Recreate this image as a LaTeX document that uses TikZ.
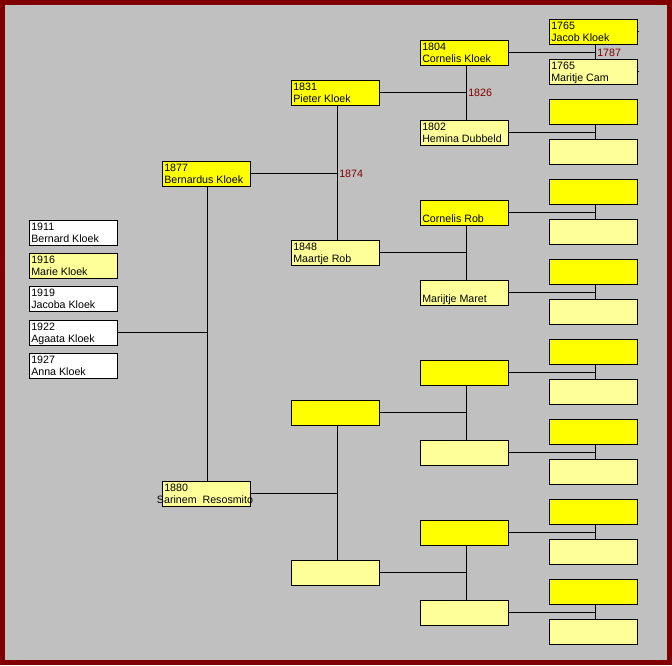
\documentclass[tikz,border=0pt]{standalone}
\usepackage{fontspec}
\setmainfont{Liberation Sans}
\definecolor{bordred}{HTML}{800000}
\definecolor{bggray}{HTML}{C0C0C0}
\definecolor{yel}{HTML}{FFFF00}
\definecolor{lyel}{HTML}{FFFF99}
\definecolor{lbl}{HTML}{800000}
\tikzset{
  box/.style={draw=black, line width=0.75pt, minimum width=66pt, minimum height=18.75pt,
    inner sep=0pt, outer sep=0pt, anchor=north west},
  txt/.style={font=\fontsize{8pt}{9pt}\selectfont, inner sep=0pt, anchor=base west, text=black},
  conn/.style={draw=black, line width=0.75pt},
  yr/.style={font=\fontsize{8pt}{9pt}\selectfont, text=lbl, inner sep=0pt, anchor=west},
}
\begin{document}
\begin{tikzpicture}[x=0.75pt,y=-0.75pt]
\useasboundingbox (0,0) rectangle (672,665);
\fill[bordred] (0,0) rectangle (672,665);
\fill[bggray] (5,5) rectangle (667,660);

% column 4
\foreach \k in {0,...,15} {
  \pgfmathtruncatemacro\t{19+40*\k}
  \ifodd\k
    \node[box, fill=lyel] (c4-\k) at (549,\t) {};
  \else
    \node[box, fill=yel] (c4-\k) at (549,\t) {};
  \fi
}
% column 3
\foreach \k in {0,...,7} {
  \pgfmathtruncatemacro\t{40+80*\k}
  \ifodd\k
    \node[box, fill=lyel] (c3-\k) at (420,\t) {};
  \else
    \node[box, fill=yel] (c3-\k) at (420,\t) {};
  \fi
}
% column 2
\foreach \k in {0,...,3} {
  \pgfmathtruncatemacro\t{80+160*\k}
  \ifodd\k
    \node[box, fill=lyel] (c2-\k) at (291,\t) {};
  \else
    \node[box, fill=yel] (c2-\k) at (291,\t) {};
  \fi
}
% column 1
\node[box, fill=yel] (c1-0) at (162,161) {};
\node[box, fill=lyel] (c1-1) at (162,481) {};

% children
\node[box, fill=white] (k0) at (29,220) {};
\node[box, fill=lyel]  (k1) at (29,253) {};
\node[box, fill=white] (k2) at (29,286) {};
\node[box, fill=white] (k3) at (29,320) {};
\node[box, fill=white] (k4) at (29,353) {};

% connectors col3 -> col4
\foreach \j in {0,...,7} {
  \pgfmathtruncatemacro\a{2*\j}
  \pgfmathtruncatemacro\b{2*\j+1}
  \coordinate (v4-\j) at ([xshift=1.5pt]c4-\a.south);
  \draw[conn] (v4-\j) -- ([xshift=1.5pt]c4-\b.north);
  \draw[conn] (c3-\j.east) -- (c3-\j.east -| v4-\j);
}
% connectors col2 -> col3
\foreach \j in {0,...,3} {
  \pgfmathtruncatemacro\a{2*\j}
  \pgfmathtruncatemacro\b{2*\j+1}
  \coordinate (v3-\j) at ([xshift=1.5pt]c3-\a.south);
  \draw[conn] (v3-\j) -- ([xshift=1.5pt]c3-\b.north);
  \draw[conn] (c2-\j.east) -- (c2-\j.east -| v3-\j);
}
% connectors col1 -> col2
\foreach \j in {0,1} {
  \pgfmathtruncatemacro\a{2*\j}
  \pgfmathtruncatemacro\b{2*\j+1}
  \coordinate (v2-\j) at ([xshift=1.5pt]c2-\a.south);
  \draw[conn] (v2-\j) -- ([xshift=1.5pt]c2-\b.north);
  \draw[conn] (c1-\j.east) -- (c1-\j.east -| v2-\j);
}
% children connector
\coordinate (v1) at ([xshift=0.75pt]c1-0.south);
\draw[conn] (v1) -- ([xshift=0.75pt]c1-1.north);
\draw[conn] (k3.east) -- (k3.east -| v1);

% small stubs
\draw[conn] (c4-0.east) -- ++(1.2pt,0);
\draw[conn] (c4-1.east) -- ++(1.2pt,0);

% marriage years
\node[yr] (y1787) at ([xshift=1.5pt]c3-0.east -| v4-0) {1787};
\node[yr] (y1826) at ([xshift=1.5pt]c2-0.east -| v3-0) {1826};
\node[yr] (y1874) at ([xshift=1.5pt]c1-0.east -| v2-0) {1874};

% texts
\node[txt] (t1a) at (551,29) {1765};
\node[txt] (t1b) at (551,41) {Jacob Kloek};
\node[txt] (t2a) at (551,69) {1765};
\node[txt] (t2b) at (551,81) {Maritje Cam};
\node[txt] (t3a) at (422,50) {1804};
\node[txt] (t3b) at (422,62) {Cornelis Kloek};
\node[txt] (t4a) at (422,130) {1802};
\node[txt] (t4b) at (422,142) {Hemina Dubbeld};
\node[txt] (t5b) at (422,222) {Cornelis Rob};
\node[txt] (t6b) at (422,302.5) {Marijtje Maret};
\node[txt] (t7a) at (293,90) {1831};
\node[txt] (t7b) at (293,102) {Pieter Kloek};
\node[txt] (t8a) at (293,250) {1848};
\node[txt] (t8b) at (293,262) {Maartje Rob};
\node[txt] (t9a) at (164,171) {1877};
\node[txt] (t9b) at (164,183) {Bernardus Kloek};
\node[txt] (t10a) at (164,491) {1880};
\node[txt, anchor=base] (t10b) at (205,503) {Sarinem\ \ Resosmito};
\node[txt] (k0a) at (31,230) {1911};
\node[txt] (k0b) at (31,242) {Bernard Kloek};
\node[txt] (k1a) at (31,263) {1916};
\node[txt] (k1b) at (31,275) {Marie Kloek};
\node[txt] (k2a) at (31,296) {1919};
\node[txt] (k2b) at (31,308) {Jacoba Kloek};
\node[txt] (k3a) at (31,330) {1922};
\node[txt] (k3b) at (31,342) {Agaata Kloek};
\node[txt] (k4a) at (31,363) {1927};
\node[txt] (k4b) at (31,375) {Anna Kloek};
\end{tikzpicture}
\end{document}
